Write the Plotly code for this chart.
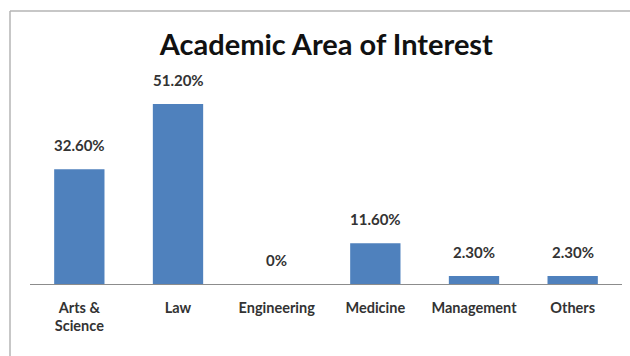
import plotly.graph_objects as go

# Survey results: share of respondents per academic area
categories = ["Arts &<br>Science", "Law", "Engineering", "Medicine", "Management", "Others"]
shares = [32.6, 51.2, 0.0, 11.6, 2.3, 2.3]


def fmt(v):
    return f"{v:.2f}%" if v else "0%"


label_font = dict(family="Lato, 'Open Sans', sans-serif", size=15, color="#333333")

fig = go.Figure(
    go.Bar(
        x=categories,
        y=shares,
        marker=dict(color="#4F81BD", line=dict(width=0)),
        width=0.51,
        hoverinfo="skip",
    )
)

# Value labels sitting above each bar
for c, v in zip(categories, shares):
    fig.add_annotation(
        x=c, y=v, text=f"<b>{fmt(v)}</b>", showarrow=False,
        yanchor="bottom", yshift=13, font=label_font,
    )

# Frame edges (left and top) around the chart, in paper units
frame_left = -20 / 592
frame_top = 1 + 62 / 211
frame_right = (630 - 30) / 592
frame_bottom = -72 / 211

fig.update_layout(
    width=630, height=356,
    margin=dict(l=30, r=8, t=73, b=72),
    paper_bgcolor="white", plot_bgcolor="white",
    showlegend=False,
    title=dict(
        text="<b>Academic Area of Interest</b>",
        x=0.518, xanchor="center", y=1 - 45 / 356, yanchor="middle",
        font=dict(family="Lato, 'Open Sans', sans-serif", size=29, color="#111111"),
    ),
    xaxis=dict(
        showline=True, linecolor="#8c8c8c", linewidth=1.3,
        showgrid=False, ticks="", ticklabelstandoff=10,
        tickfont=dict(family="Lato, 'Open Sans', sans-serif", size=14.5, color="#333333"),
        tickprefix="<b>", ticksuffix="</b>",
    ),
    yaxis=dict(range=[0, 60], visible=False, showgrid=False, zeroline=False),
    shapes=[
        dict(
            type="line", xref="paper", yref="paper",
            x0=frame_left, x1=frame_left, y0=frame_bottom, y1=frame_top,
            line=dict(color="#b5b5b5", width=1.5), layer="below",
        ),
        dict(
            type="line", xref="paper", yref="paper",
            x0=frame_left, x1=frame_right, y0=frame_top, y1=frame_top,
            line=dict(color="#b5b5b5", width=1.5), layer="below",
        ),
    ],
)

fig.write_html(
    "out.html",
    post_script="document.body.style.margin='0';"
                "document.documentElement.style.overflow='hidden';"
                "document.body.style.overflow='hidden';",
)
